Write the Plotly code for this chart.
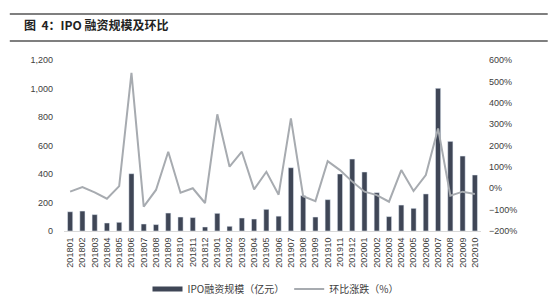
import plotly.graph_objects as go

months = ["201801","201802","201803","201804","201805","201806","201807","201808","201809","201810",
          "201811","201812","201901","201902","201903","201904","201905","201906","201907","201908",
          "201909","201910","201911","201912","202001","202002","202003","202004","202005","202006",
          "202007","202008","202009","202010"]
ipo_amount = [135, 140, 115, 56, 61, 402, 49, 45, 126, 98,
              94, 28, 124, 33, 91, 84, 152, 104, 444, 248,
              98, 220, 400, 505, 414, 269, 101, 182, 159, 260,
              1001, 629, 526, 393]
mom_change = [-16, 6, -19, -49, 10, 540, -86, -8, 171, -21,
              0, -69, 346, 101, 171, -5, 77, -30, 327, -37,
              -60, 127, 85, 31, -16, -32, -63, 85, -13, 62,
              280, -35, -16, -27]

bar_name = "IPO融资规模（亿元）"
line_name = "环比涨跌（%）"
bar_color = "#3f4656"
line_color = "#a7abb0"
font_num = "Liberation Sans, Arial"
font_cjk = "Noto Sans CJK SC"

fig = go.Figure()
fig.add_trace(go.Bar(x=months, y=ipo_amount, name=bar_name, marker_color=bar_color,
                     showlegend=False, yaxis="y"))
fig.add_trace(go.Scatter(x=months, y=mom_change, name=line_name, mode="lines",
                         line=dict(color=line_color, width=2), yaxis="y2", showlegend=False))
# legend entries
fig.add_trace(go.Scatter(x=[None], y=[None], name=bar_name, mode="lines",
                         line=dict(color=bar_color, width=5)))
fig.add_trace(go.Scatter(x=[None], y=[None], name=line_name, mode="lines",
                         line=dict(color=line_color, width=2)))

fig.update_layout(
    width=551, height=298,
    margin=dict(l=64, r=70, t=60, b=67, autoexpand=False),
    paper_bgcolor="white", plot_bgcolor="white",
    bargap=0.58,
    font=dict(family=font_num, size=9, color="#404040"),
    xaxis=dict(type="category", tickangle=-90, showgrid=False, ticks="",
               showline=True, linecolor="#d9d9d9", linewidth=1, automargin=False,
               tickfont=dict(size=9, family=font_num, color="#404040"),
               ticklabelstandoff=2),
    yaxis=dict(range=[0, 1200], dtick=200, tickformat=",", showgrid=False,
               zeroline=False, ticks="", ticklabelstandoff=10, automargin=False,
               tickfont=dict(size=9, family=font_num, color="#404040")),
    yaxis2=dict(range=[-200, 600], dtick=100, ticksuffix="%", overlaying="y",
                side="right", showgrid=False, zeroline=False, ticks="",
                ticklabelstandoff=7, automargin=False,
                tickfont=dict(size=9, family=font_num, color="#404040")),
    legend=dict(orientation="h", x=0.5, xanchor="center", xref="container",
                y=0.03, yanchor="middle", yref="container",
                font=dict(family=font_cjk, size=10, color="#404040"),
                itemwidth=30, tracegroupgap=0),
)

fig.add_annotation(text="<b>图  4：IPO 融资规模及环比</b>", xref="paper", yref="paper",
                   x=-0.10, y=1.205, xanchor="left", yanchor="middle", showarrow=False,
                   font=dict(family=font_cjk, size=12, color="#222222"))
for yy in (1.269, 1.111):
    fig.add_shape(type="line", xref="paper", yref="paper", x0=-0.13, x1=1.16,
                  y0=yy, y1=yy, line=dict(color="#555555", width=1.5))

fig.write_html("out.html")
